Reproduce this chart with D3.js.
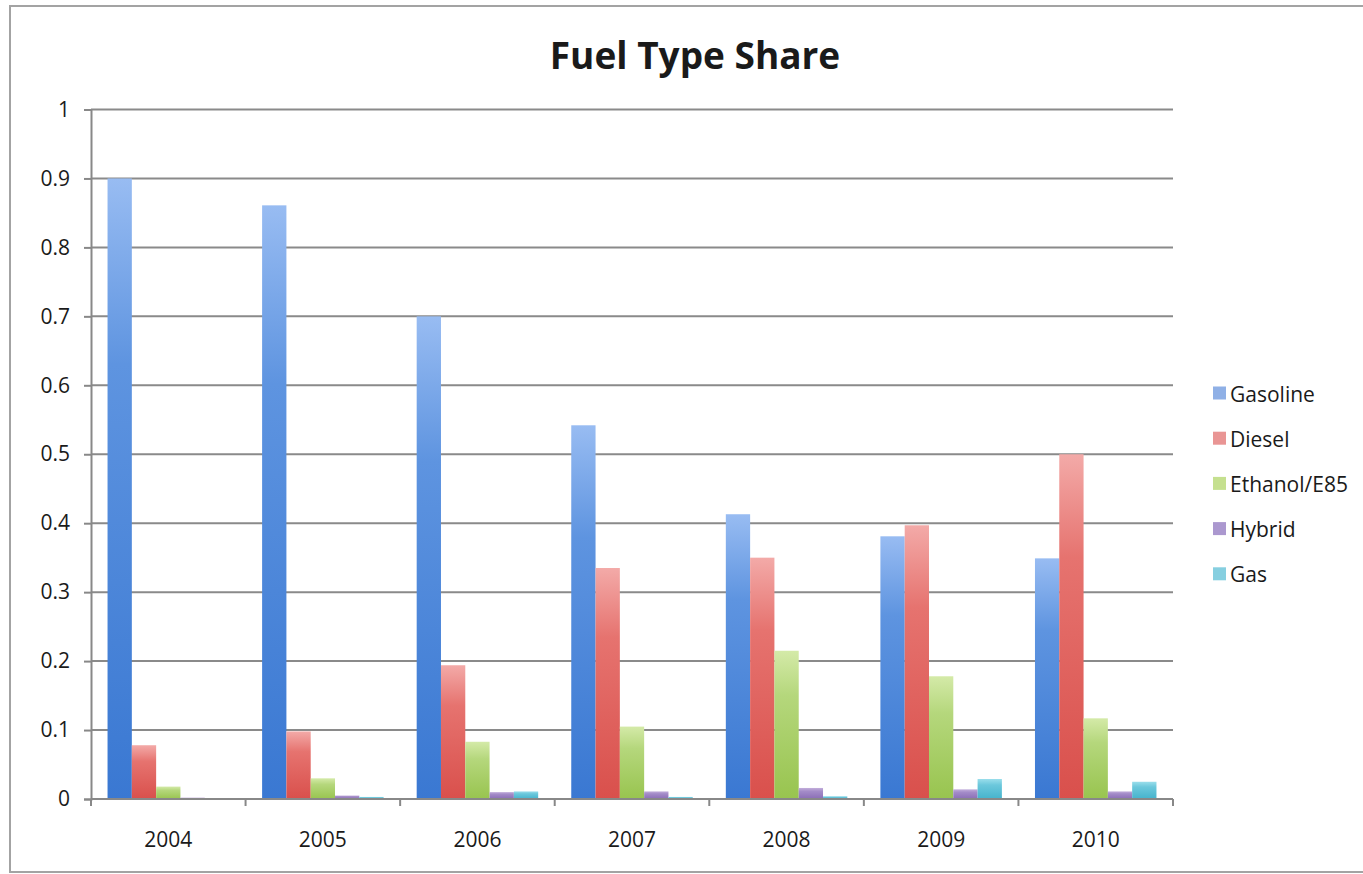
<!DOCTYPE html>
<html>
<head>
<meta charset="utf-8">
<script src="https://cdn.jsdelivr.net/npm/d3@7"></script>
<style>
  html, body { margin: 0; padding: 0; background: #fff; }
  svg { display: block; }
  text { font-family: "Open Sans", "Noto Sans", sans-serif; fill: #1a1a1a; }
</style>
</head>
<body>
<svg id="chart" width="1363" height="874"></svg>
<script>
// Fuel type share by model year
const years = ["2004", "2005", "2006", "2007", "2008", "2009", "2010"];
const seriesNames = ["Gasoline", "Diesel", "Ethanol/E85", "Hybrid", "Gas"];
const gasoline = [0.900, 0.861, 0.700, 0.542, 0.413, 0.381, 0.349];
const diesel   = [0.078, 0.098, 0.194, 0.335, 0.350, 0.397, 0.500];
const ethanol  = [0.018, 0.030, 0.083, 0.105, 0.215, 0.178, 0.117];
const hybrid   = [0.002, 0.005, 0.010, 0.011, 0.016, 0.014, 0.011];
const gas      = [0.001, 0.003, 0.011, 0.003, 0.004, 0.029, 0.025];
const yTicks   = [0, 0.1, 0.2, 0.3, 0.4, 0.5, 0.6, 0.7, 0.8, 0.9, 1];

const seriesValues = [gasoline, diesel, ethanol, hybrid, gas];
// light (top), middle and dark (bottom) shades for each series
const shades = [
  ["#98bcf2", "#5e94e0", "#3a78d2"],
  ["#f3aaa8", "#e6736f", "#d9504c"],
  ["#d4eaa8", "#b5d77c", "#98c44f"],
  ["#c2aedb", "#a48cc8", "#8a6db6"],
  ["#9adeeb", "#6cc8dc", "#45b3cc"]
];
// flat swatch colours for the legend keys
const swatches = ["#8fb0e6", "#e99594", "#c5e08f", "#ab98cf", "#86cfe0"];

const svg = d3.select("#chart");
const margin = { left: 91, right: 1173, top: 109.5, bottom: 799 };

// outer chart frame
svg.append("rect")
  .attr("x", 10).attr("y", 6)
  .attr("width", 1360).attr("height", 866)
  .attr("fill", "#fff")
  .attr("stroke", "#a3a3a3").attr("stroke-width", 2);

const defs = svg.append("defs");
shades.forEach((s, i) => {
  const g = defs.append("linearGradient")
    .attr("id", "grad" + i)
    .attr("x1", 0).attr("y1", 0).attr("x2", 0).attr("y2", 1);
  g.append("stop").attr("offset", "0%").attr("stop-color", s[0]);
  g.append("stop").attr("offset", "30%").attr("stop-color", s[1]);
  g.append("stop").attr("offset", "100%").attr("stop-color", s[2]);
});

const x0 = d3.scaleBand().domain(years).range([margin.left, margin.right]);
const groupPad = x0.bandwidth() * 0.107;
const x1 = d3.scaleBand().domain(seriesNames)
  .range([groupPad, x0.bandwidth() - groupPad]);
const y = d3.scaleLinear().domain([0, 1]).range([margin.bottom, margin.top]);

// horizontal gridlines
svg.append("g").selectAll("line")
  .data(yTicks.filter(d => d > 0))
  .join("line")
  .attr("x1", margin.left).attr("x2", margin.right)
  .attr("y1", d => y(d)).attr("y2", d => y(d))
  .attr("stroke", "#8a8a8a").attr("stroke-width", 2);

// bars
const rows = [];
years.forEach((yr, i) => {
  seriesNames.forEach((s, j) => {
    rows.push({ year: yr, series: s, idx: j, value: seriesValues[j][i] });
  });
});
svg.append("g").selectAll("rect")
  .data(rows)
  .join("rect")
  .attr("x", d => x0(d.year) + x1(d.series))
  .attr("width", x1.bandwidth())
  .attr("y", d => y(d.value))
  .attr("height", d => y(0) - y(d.value))
  .attr("fill", d => `url(#grad${d.idx})`);

// y axis
const yAxis = d3.axisLeft(y).tickValues(yTicks)
  .tickFormat(d => d3.format("")(+d.toFixed(1)))
  .tickSize(7).tickPadding(14);
const gy = svg.append("g")
  .attr("transform", `translate(${margin.left},0)`)
  .call(yAxis);
gy.select(".domain").attr("stroke", "#888").attr("stroke-width", 2);
gy.selectAll(".tick line").attr("stroke", "#888").attr("stroke-width", 2);
gy.selectAll(".tick text").attr("font-size", 21).attr("fill", "#1a1a1a")
  .attr("font-family", "'Open Sans', sans-serif");

// x axis with ticks between categories
const gx = svg.append("g")
  .attr("transform", `translate(0,${margin.bottom})`);
gx.append("line")
  .attr("x1", margin.left).attr("x2", margin.right)
  .attr("stroke", "#888").attr("stroke-width", 2);
gx.selectAll("line.sep")
  .data(years.map(d => x0(d)).concat([margin.right]))
  .join("line").attr("class", "sep")
  .attr("x1", d => d).attr("x2", d => d)
  .attr("y1", 0).attr("y2", 7)
  .attr("stroke", "#888").attr("stroke-width", 2);
gx.selectAll("text")
  .data(years)
  .join("text")
  .attr("x", d => x0(d) + x0.bandwidth() / 2)
  .attr("y", 48)
  .attr("text-anchor", "middle")
  .attr("font-size", 21)
  .text(d => d);

// title
svg.append("text")
  .attr("x", 695).attr("y", 69)
  .attr("text-anchor", "middle")
  .attr("font-size", 37)
  .attr("font-weight", 700)
  .text("Fuel Type Share");

// legend
const legend = svg.append("g").attr("transform", "translate(1213,392.5)");
const item = legend.selectAll("g")
  .data(seriesNames)
  .join("g")
  .attr("transform", (d, i) => `translate(0,${i * 45.2})`);
item.append("rect")
  .attr("x", 0).attr("y", -6)
  .attr("width", 13).attr("height", 13)
  .attr("fill", (d, i) => swatches[i]);
item.append("text")
  .attr("x", 17).attr("y", 1)
  .attr("dominant-baseline", "central")
  .attr("font-size", 21)
  .text(d => d);
</script>
</body>
</html>
